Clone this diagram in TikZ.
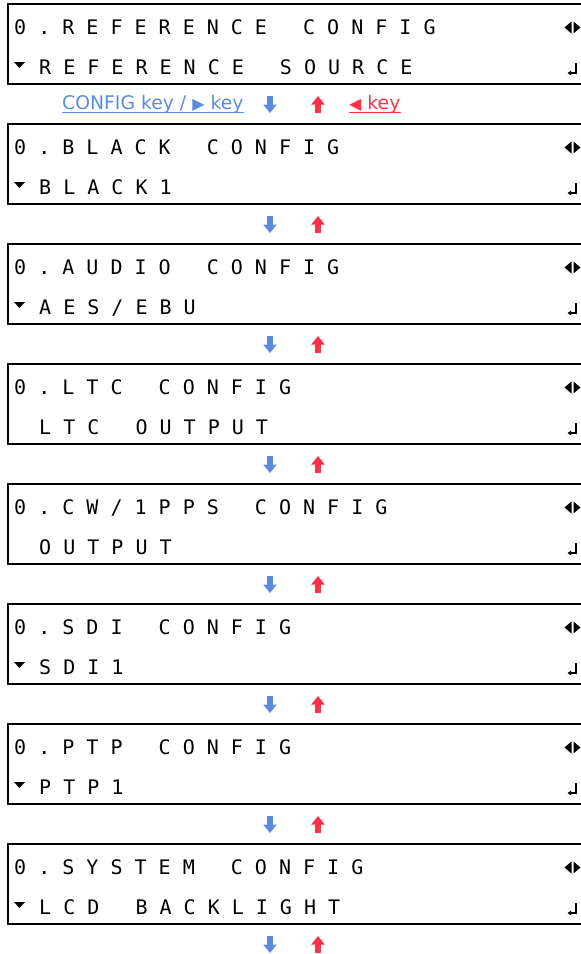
\documentclass[tikz,border=0pt]{standalone}
\usepackage{fontspec}
\setmainfont{DejaVu Sans}
\newfontfamily\lcdfont{DejaVu Sans Mono}
\usetikzlibrary{positioning,calc,arrows.meta}

\definecolor{keyblue}{HTML}{5B8DDB}
\definecolor{keyred}{HTML}{FF3347}

\begin{document}
\begin{tikzpicture}[x=1pt,y=1pt]
\tikzset{panel/.style={draw, line width=2pt, outer sep=0pt, inner sep=0pt, minimum width=620pt, minimum height=80pt, anchor=north west},
  lcd/.style={font=\lcdfont\fontsize{20}{20}\selectfont\frenchspacing, inner sep=0pt, anchor=base west},
  keytxt/.style={font=\fontsize{18.8}{20}\selectfont, inner sep=0pt, anchor=base west},
  godown/.style={keyblue, line width=5.5pt, -{Triangle[length=8.5pt,width=13pt]}},
  goup/.style={keyred, line width=5.5pt, -{Triangle[length=8.5pt,width=13pt]}},
  pics/lr/.style={code={\fill (-1,6) -- (-8,0) -- (-1,-6) -- cycle;
                        \fill (1,6) -- (8,0) -- (1,-6) -- cycle;}}}
   \clip (0,0) rectangle (581,-954);

   \node[panel] (p1) at (8,-4) {};
   \node[lcd] (h1) at ([shift={(6,-30)}]p1.north west) {0 . R E F E R E N C E~~~C O N F I G};
   \node[lcd] (s1) at ([shift={(31,-70)}]p1.north west) {R E F E R E N C E~~~S O U R C E};

   \node[keytxt, text=keyblue] (cfgkey) at ([shift={(54,-25.5)}]p1.south west) {CONFIG key / {\fontsize{16}{16}\selectfont ▶} key};
   \node[keytxt, text=keyred] (backkey) at ([shift={(341,-25.5)}]p1.south west) {{\fontsize{16}{16}\selectfont ◀} key};
   \draw[keyblue, line width=1.3pt] ([yshift=-3pt]cfgkey.base west) -- ([yshift=-3pt]cfgkey.base east);
   \draw[keyred, line width=1.3pt] ([yshift=-3pt]backkey.base west) -- ([yshift=-3pt]backkey.base east);

   \node[panel] (p2) at (8,-124) {};
   \node[lcd] (h2) at ([shift={(6,-30)}]p2.north west) {0 . B L A C K~~~C O N F I G};
   \node[lcd] (s2) at ([shift={(31,-70)}]p2.north west) {B L A C K 1};

   \node[panel] (p3) at (8,-244) {};
   \node[lcd] (h3) at ([shift={(6,-30)}]p3.north west) {0 . A U D I O~~~C O N F I G};
   \node[lcd] (s3) at ([shift={(31,-70)}]p3.north west) {A E S / E B U};

   \node[panel] (p4) at (8,-364) {};
   \node[lcd] (h4) at ([shift={(6,-30)}]p4.north west) {0 . L T C~~~C O N F I G};
   \node[lcd] (s4) at ([shift={(31,-70)}]p4.north west) {L T C~~~O U T P U T};

   \node[panel] (p5) at (8,-484) {};
   \node[lcd] (h5) at ([shift={(6,-30)}]p5.north west) {0 . C W / 1 P P S~~~C O N F I G};
   \node[lcd] (s5) at ([shift={(31,-70)}]p5.north west) {O U T P U T};

   \node[panel] (p6) at (8,-604) {};
   \node[lcd] (h6) at ([shift={(6,-30)}]p6.north west) {0 . S D I~~~C O N F I G};
   \node[lcd] (s6) at ([shift={(31,-70)}]p6.north west) {S D I 1};

   \node[panel] (p7) at (8,-724) {};
   \node[lcd] (h7) at ([shift={(6,-30)}]p7.north west) {0 . P T P~~~C O N F I G};
   \node[lcd] (s7) at ([shift={(31,-70)}]p7.north west) {P T P 1};

   \node[panel] (p8) at (8,-844) {};
   \node[lcd] (h8) at ([shift={(6,-30)}]p8.north west) {0 . S Y S T E M~~~C O N F I G};
   \node[lcd] (s8) at ([shift={(31,-70)}]p8.north west) {L C D~~~B A C K L I G H T};

   % marks on the right, arrows under each panel
   \foreach \i in {1,...,8} {
     \pic at ([shift={(564.5,-23.5)}]p\i.north west) {lr};
     \draw[line width=1.2pt, -{Triangle[length=3.5pt,width=4.5pt]}] ([shift={(568,-59)}]p\i.north west) -- ++(0,-10) -- ++(-8.5,0);
     \coordinate (nx\i) at ([shift={(262,-12)}]p\i.south west);
     \coordinate (nxe\i) at ([shift={(262,-29)}]p\i.south west);
     \coordinate (bk\i) at ([shift={(310,-29)}]p\i.south west);
     \coordinate (bke\i) at ([shift={(310,-12)}]p\i.south west);
     \draw[godown] (nx\i) -- (nxe\i);
     \draw[goup] (bk\i) -- (bke\i);
   }
   \foreach \i in {1,2,3,6,7,8}
     \fill ([shift={(6,-58)}]p\i.north west) -- ++(11,0) -- ++(-5.5,-6) -- cycle;
\end{tikzpicture}
\end{document}
